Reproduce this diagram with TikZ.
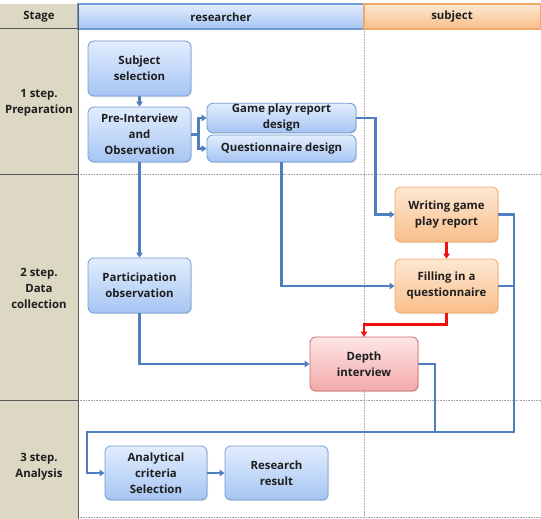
\documentclass[tikz,border=0pt]{standalone}
\usepackage{fontspec}
\setmainfont{Open Sans}
\usetikzlibrary{arrows.meta,positioning,shadows,calc}

\definecolor{stageFill}{HTML}{DDD8C4}
\definecolor{stageLine}{HTML}{5A5A5A}
\definecolor{gridGray}{HTML}{A6A6A6}
\definecolor{flowBlue}{HTML}{4F7FBF}
\definecolor{flowRed}{HTML}{F01010}
\definecolor{textDark}{HTML}{1E1E1E}
\definecolor{blueTop}{HTML}{E2EDFD}
\definecolor{blueBot}{HTML}{A6C5F3}
\definecolor{blueLine}{HTML}{6F9AD2}
\definecolor{orangeTop}{HTML}{FDE8D3}
\definecolor{orangeBot}{HTML}{F9BE8A}
\definecolor{orangeLine}{HTML}{F0A868}
\definecolor{redTop}{HTML}{FDE6E6}
\definecolor{redBot}{HTML}{F3A9AA}
\definecolor{redLine}{HTML}{C9696A}

\tikzset{
  txt/.style={font=\fontsize{11.4}{16}\selectfont\bfseries, text=textDark, align=center},
  box/.style={txt, rounded corners=6pt, line width=0.8pt, inner sep=1pt,
    drop shadow={opacity=0.2, shadow xshift=1pt, shadow yshift=-1.2pt}},
  bluebox/.style={box, draw=blueLine, top color=blueTop, bottom color=blueBot},
  orangebox/.style={box, draw=orangeLine, top color=orangeTop, bottom color=orangeBot},
  redbox/.style={box, draw=redLine, top color=redTop, bottom color=redBot},
  flow/.style={draw=flowBlue, line width=2.2pt, -{Triangle[length=5pt,width=6.5pt]}},
  bus/.style={draw=flowBlue, line width=2.2pt},
  redflow/.style={draw=flowRed, line width=2.2pt, -{Triangle[length=5pt,width=6.5pt]}},
  grid/.style={draw=gridGray, line width=0.6pt, dash pattern=on 0.8pt off 0.8pt},
}

\begin{document}
\begin{tikzpicture}[x=1pt, y=-1pt]
    \useasboundingbox (0,0) rectangle (541,519);
    % lanes
    \fill[stageFill] (0,4) rectangle (78,519);
    \shade[top color=blueTop, bottom color=blueBot] (78,4) rectangle (364,29);
    \draw[blueLine, line width=1.2pt] (78,4) rectangle (364,29);
    \shade[top color=orangeTop, bottom color=orangeBot] (364,4) rectangle (541,29);
    \draw[orangeLine, line width=1.2pt] (364,4) rectangle (541,29);
    \draw[grid] (364,29) -- (364,519);
    \foreach \y in {174,400,517}
        \draw[grid] (78,\y) -- (541,\y);
    \foreach \y in {29,174,400}
        \draw[stageLine, line width=1pt] (0,\y) -- (78,\y);
    \draw[stageLine, line width=1pt] (78,4) -- (78,519);

    \node[txt] (hStage) at (39,17) {Stage};
    \node[txt] (hResearcher) at (221,17) {researcher};
    \node[txt] (hSubject) at (452,17) {subject};
    \node[txt] (sPrep) at (39,103) {1 step.\\Preparation};
    \node[txt] (sData) at (39,288) {2 step.\\Data\\collection};
    \node[txt] (sAnalysis) at (39,467) {3 step.\\Analysis};

    % boxes
    \node[bluebox, minimum width=103pt, minimum height=55pt] (subj) at (139.5,68.5) {Subject\\selection};
    \node[bluebox, minimum width=103pt, minimum height=55pt] (pre) at (139.5,134.5) {Pre-Interview\\and\\Observation};
    \node[bluebox, minimum width=149pt, minimum height=28pt] (gpr) at (281.5,118) {Game play report\\design};
    \node[bluebox, minimum width=149pt, minimum height=27pt] (qd) at (281.5,148.5) {Questionnaire design};
    \node[orangebox, minimum width=103pt, minimum height=55pt] (wgp) at (446.5,214.5) {Writing game\\play report};
    \node[orangebox, minimum width=103pt, minimum height=54pt] (fiq) at (446.5,286) {Filling in a\\questionnaire};
    \node[bluebox, minimum width=103pt, minimum height=55pt] (po) at (139.5,285.5) {Participation\\observation};
    \node[redbox, minimum width=108pt, minimum height=54pt] (di) at (364,364) {Depth\\interview};
    \node[bluebox, minimum width=102pt, minimum height=54pt] (acs) at (156,473) {Analytical\\criteria\\Selection};
    \node[bluebox, minimum width=103pt, minimum height=54pt] (rr) at (276.5,473) {Research\\result};

    \coordinate (cBusR) at (514,432);
    \coordinate (cBusD) at (435,432);
    \coordinate (cBusL) at (87,432);

    % connectors
    \draw[flow] (subj) -- (pre);
    \draw[flow] (pre.east) -- ++(7,0) |- (gpr.west);
    \draw[flow] (pre.east) -- ++(7,0) |- (qd.west);
    \draw[flow] (pre) -- (po);
    \draw[flow] (gpr.east) -- ++(19,0) |- (wgp.west);
    \draw[flow] (qd.south) |- (fiq.west);
    \draw[redflow] (wgp) -- (fiq);
    \draw[redflow] (fiq.south) -- ++(0,11) -| (di.north);
    \draw[flow] (po.south) |- (di.west);
    \draw[bus] (fiq.east) -| (cBusR);
    \draw[bus] (di.east) -| (cBusD);
    \draw[flow] (wgp.east) -| (cBusR) -- (cBusL) |- (acs.west);
    \draw[flow] (acs) -- (rr);
\end{tikzpicture}
\end{document}
